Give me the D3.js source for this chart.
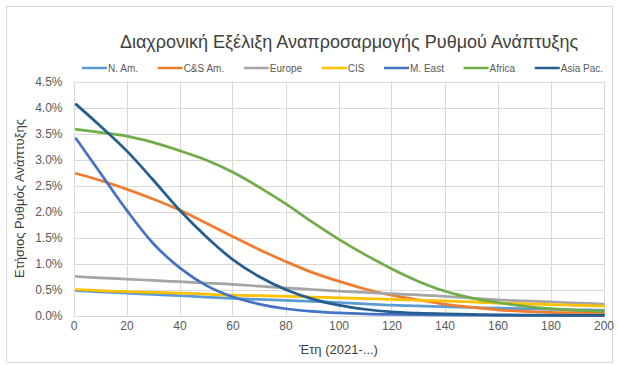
<!DOCTYPE html>
<html><head><meta charset="utf-8">
<script src="https://cdn.jsdelivr.net/npm/d3@7"></script>
<style>
body{margin:0;background:#fff;}
svg{display:block;font-family:"Liberation Sans",Arial,sans-serif;}
</style></head>
<body><svg id="c" width="618" height="365"></svg>
<script>
const years = [1,10,20,30,40,50,60,70,80,90,100,110,120,130,140,150,160,170,180,190,200];
const seriesNames = ["N. Am.","C&S Am.","Europe","CIS","M. East","Africa","Asia Pac."];
const seriesColors = ["#5B9BD5","#ED7D31","#A5A5A5","#FFC000","#4472C4","#70AD47","#255E91"];
const nAm    = [0.48,0.455,0.43,0.405,0.38,0.355,0.33,0.31,0.29,0.27,0.25,0.225,0.20,0.185,0.17,0.155,0.14,0.13,0.12,0.11,0.10];
const csAm   = [2.73,2.60,2.43,2.24,2.03,1.78,1.52,1.27,1.04,0.83,0.66,0.51,0.39,0.30,0.22,0.16,0.11,0.08,0.06,0.05,0.04];
const europe = [0.75,0.725,0.70,0.675,0.65,0.625,0.60,0.565,0.53,0.50,0.47,0.445,0.42,0.395,0.37,0.335,0.30,0.28,0.26,0.24,0.22];
const cis    = [0.50,0.48,0.46,0.445,0.43,0.41,0.39,0.38,0.37,0.355,0.34,0.325,0.31,0.295,0.28,0.26,0.24,0.225,0.21,0.195,0.18];
const mEast  = [3.40,2.75,2.03,1.39,0.92,0.58,0.36,0.22,0.13,0.08,0.05,0.03,0.02,0.015,0.01,0.006,0.004,0.003,0.002,0.001,0.0];
const africa = [3.58,3.52,3.45,3.33,3.17,2.99,2.76,2.47,2.15,1.80,1.47,1.17,0.90,0.66,0.47,0.34,0.25,0.18,0.13,0.10,0.08];
const asiaPac= [4.06,3.65,3.17,2.61,2.03,1.52,1.08,0.75,0.50,0.32,0.20,0.12,0.07,0.045,0.03,0.02,0.012,0.008,0.005,0.003,0.002];
const xTicks = [0,20,40,60,80,100,120,140,160,180,200];
const yTicks = [0,0.5,1.0,1.5,2.0,2.5,3.0,3.5,4.0,4.5];
const title = "Διαχρονική Εξέλιξη Αναπροσαρμογής Ρυθμού Ανάπτυξης";
const xTitle = "Έτη  (2021-...)";
const yTitle = "Ετήσιος Ρυθμός Ανάπτυξης";

const allSeries = [nAm,csAm,europe,cis,mEast,africa,asiaPac];
const svg = d3.select("#c");

// outer frame
svg.append("rect").attr("x",6.5).attr("y",6.5).attr("width",606).attr("height",356)
  .attr("fill","#fff").attr("stroke","#D9D9D9").attr("stroke-width",1);

const x = d3.scaleLinear().domain([0,200]).range([73.5,603.5]);
const y = d3.scaleLinear().domain([0,4.5]).range([315.5,81.5]);

// gridlines
svg.append("g").selectAll("line").data(yTicks).join("line")
  .attr("x1",x(0)).attr("x2",x(200)).attr("y1",d=>Math.round(y(d))+0.5).attr("y2",d=>Math.round(y(d))+0.5)
  .attr("stroke","#D9D9D9").attr("stroke-width",1);
svg.append("g").selectAll("line").data(xTicks).join("line")
  .attr("y1",y(0)).attr("y2",y(4.5)).attr("x1",d=>Math.round(x(d))+0.5).attr("x2",d=>Math.round(x(d))+0.5)
  .attr("stroke","#D9D9D9").attr("stroke-width",1);

// axes labels via d3 axes
const yAxis = d3.axisLeft(y).tickValues(yTicks).tickFormat(d=>d.toFixed(1)+"%").tickSize(0).tickPadding(11);
const gy = svg.append("g").attr("transform",`translate(${x(0)},0)`).call(yAxis);
gy.select(".domain").remove();
gy.selectAll("text").attr("font-size",12).attr("fill","#595959").attr("font-family","Liberation Sans, Arial, sans-serif");

const xAxis = d3.axisBottom(x).tickValues(xTicks).tickFormat(d3.format("d")).tickSize(0).tickPadding(6);
const gx = svg.append("g").attr("transform",`translate(0,${y(0)})`).call(xAxis);
gx.select(".domain").remove();
gx.selectAll("text").attr("font-size",12).attr("fill","#595959").attr("font-family","Liberation Sans, Arial, sans-serif");

// lines
const line = d3.line().x((d,i)=>x(years[i])).y(d=>y(d)).curve(d3.curveCatmullRom.alpha(0.5));
svg.append("g").selectAll("path").data(allSeries).join("path")
  .attr("d",d=>line(d)).attr("fill","none")
  .attr("stroke",(d,i)=>seriesColors[i]).attr("stroke-width",2.75).attr("stroke-linecap","round");

// title
svg.append("text").attr("x",349).attr("y",48).attr("text-anchor","middle")
  .attr("font-size",18).attr("fill","#404040").text(title);

// axis titles
svg.append("text").attr("x",(x(0)+x(200))/2).attr("y",354).attr("text-anchor","middle")
  .attr("font-size",13).attr("fill","#404040").text(xTitle);
svg.append("text").attr("transform",`translate(24,${(y(0)+y(4.5))/2}) rotate(-90)`).attr("text-anchor","middle")
  .attr("font-size",13).attr("fill","#404040").text(yTitle);

// legend
const lg = svg.append("g");
const items = lg.selectAll("g").data(seriesNames).join("g");
items.append("line").attr("x1",0).attr("x2",25).attr("y1",0).attr("y2",0)
  .attr("stroke",(d,i)=>seriesColors[i]).attr("stroke-width",2.5);
const txt = items.append("text").attr("x",26).attr("y",3.5).attr("font-size",10)
  .attr("font-family","Liberation Sans Narrow, Arial Narrow, Liberation Sans, sans-serif")
  .attr("fill","#595959").text(d=>d);
const widths = txt.nodes().map(n=>26+n.getComputedTextLength());
const startX = 82, endX = 603;
const gap = (endX-startX-d3.sum(widths))/(seriesNames.length-1);
let cx = startX;
items.each(function(d,i){ d3.select(this).attr("transform",`translate(${cx},68)`); cx += widths[i]+gap; });
</script></body></html>
